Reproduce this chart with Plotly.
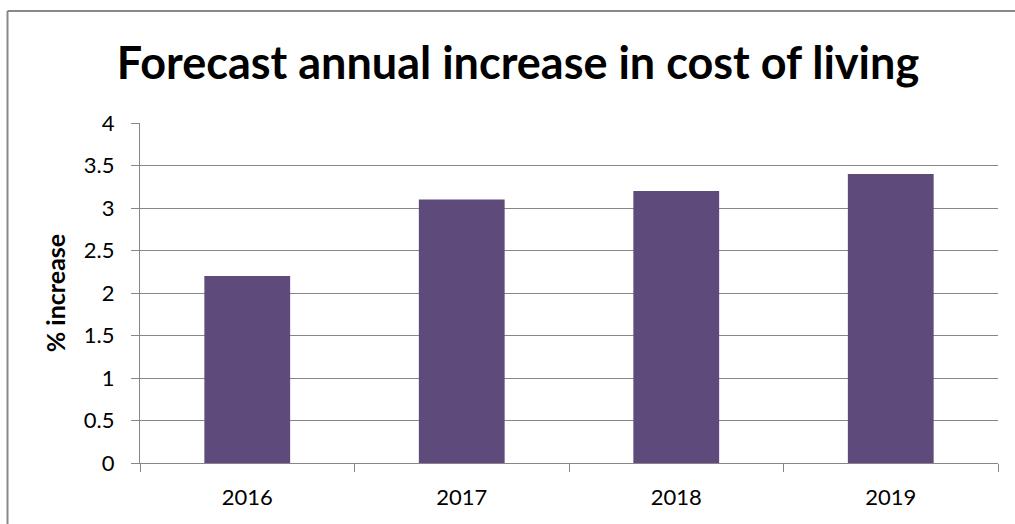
import plotly.graph_objects as go

years = ["2016", "2017", "2018", "2019"]
increase = [2.2, 3.1, 3.2, 3.4]
y_ticks = [0, 0.5, 1, 1.5, 2, 2.5, 3, 3.5, 4]
y_tick_text = ["0", "0.5", "1", "1.5", "2", "2.5", "3", "3.5", "4"]

W, H = 1015, 524
L, R, T, B = 140, 17, 123, 61
pw = W - L - R
ph = H - T - B

fig = go.Figure(go.Bar(x=years, y=increase, marker=dict(color="#5F4B7B", line=dict(width=0)), width=0.4))

grid = "#868686"
fx0 = (7.5 - L) / pw
fx1 = (W - L) / pw
fy_top = 1 + (T - 11) / ph
fy_bot = -B / ph
frame = dict(color="#888888", width=2)
fig.update_layout(
    width=W, height=H,
    margin=dict(l=L, r=R, t=T, b=B),
    paper_bgcolor="white", plot_bgcolor="white",
    font=dict(family="Lato, Calibri, sans-serif", size=22, color="black"),
    title=dict(text="<b>Forecast annual increase in cost of living</b>", x=518 / W, xanchor="center",
               y=1 - 63 / H, yanchor="middle", font=dict(size=45, color="black")),
    bargap=0.6,
    showlegend=False,
    shapes=[
        dict(type="line", xref="paper", yref="paper", x0=fx0, x1=fx0, y0=fy_bot, y1=fy_top, line=frame, layer="below"),
        dict(type="line", xref="paper", yref="paper", x0=fx0, x1=fx1, y0=fy_top, y1=fy_top, line=frame, layer="below"),
    ],
)
fig.update_xaxes(type="category", showgrid=False, showline=True, linecolor=grid, linewidth=1.3,
                 ticks="outside", tickson="boundaries", ticklen=8, tickcolor=grid, tickwidth=1.3,
                 tickfont=dict(size=22), ticklabelstandoff=14)
fig.update_yaxes(range=[0, 4], tickvals=y_ticks, ticktext=y_tick_text, showgrid=True, gridcolor=grid,
                 gridwidth=1.3, showline=True, linecolor=grid, linewidth=1.3, ticks="outside", ticklen=8,
                 tickcolor=grid, tickwidth=1.3, tickfont=dict(size=22), ticklabelstandoff=12, zeroline=False,
                 title=dict(text="<b>% increase</b>", font=dict(size=25), standoff=10))

fig.write_html("out.html", config={"displayModeBar": False},
               post_script="document.body.style.margin='0';document.body.style.overflow='hidden';")
